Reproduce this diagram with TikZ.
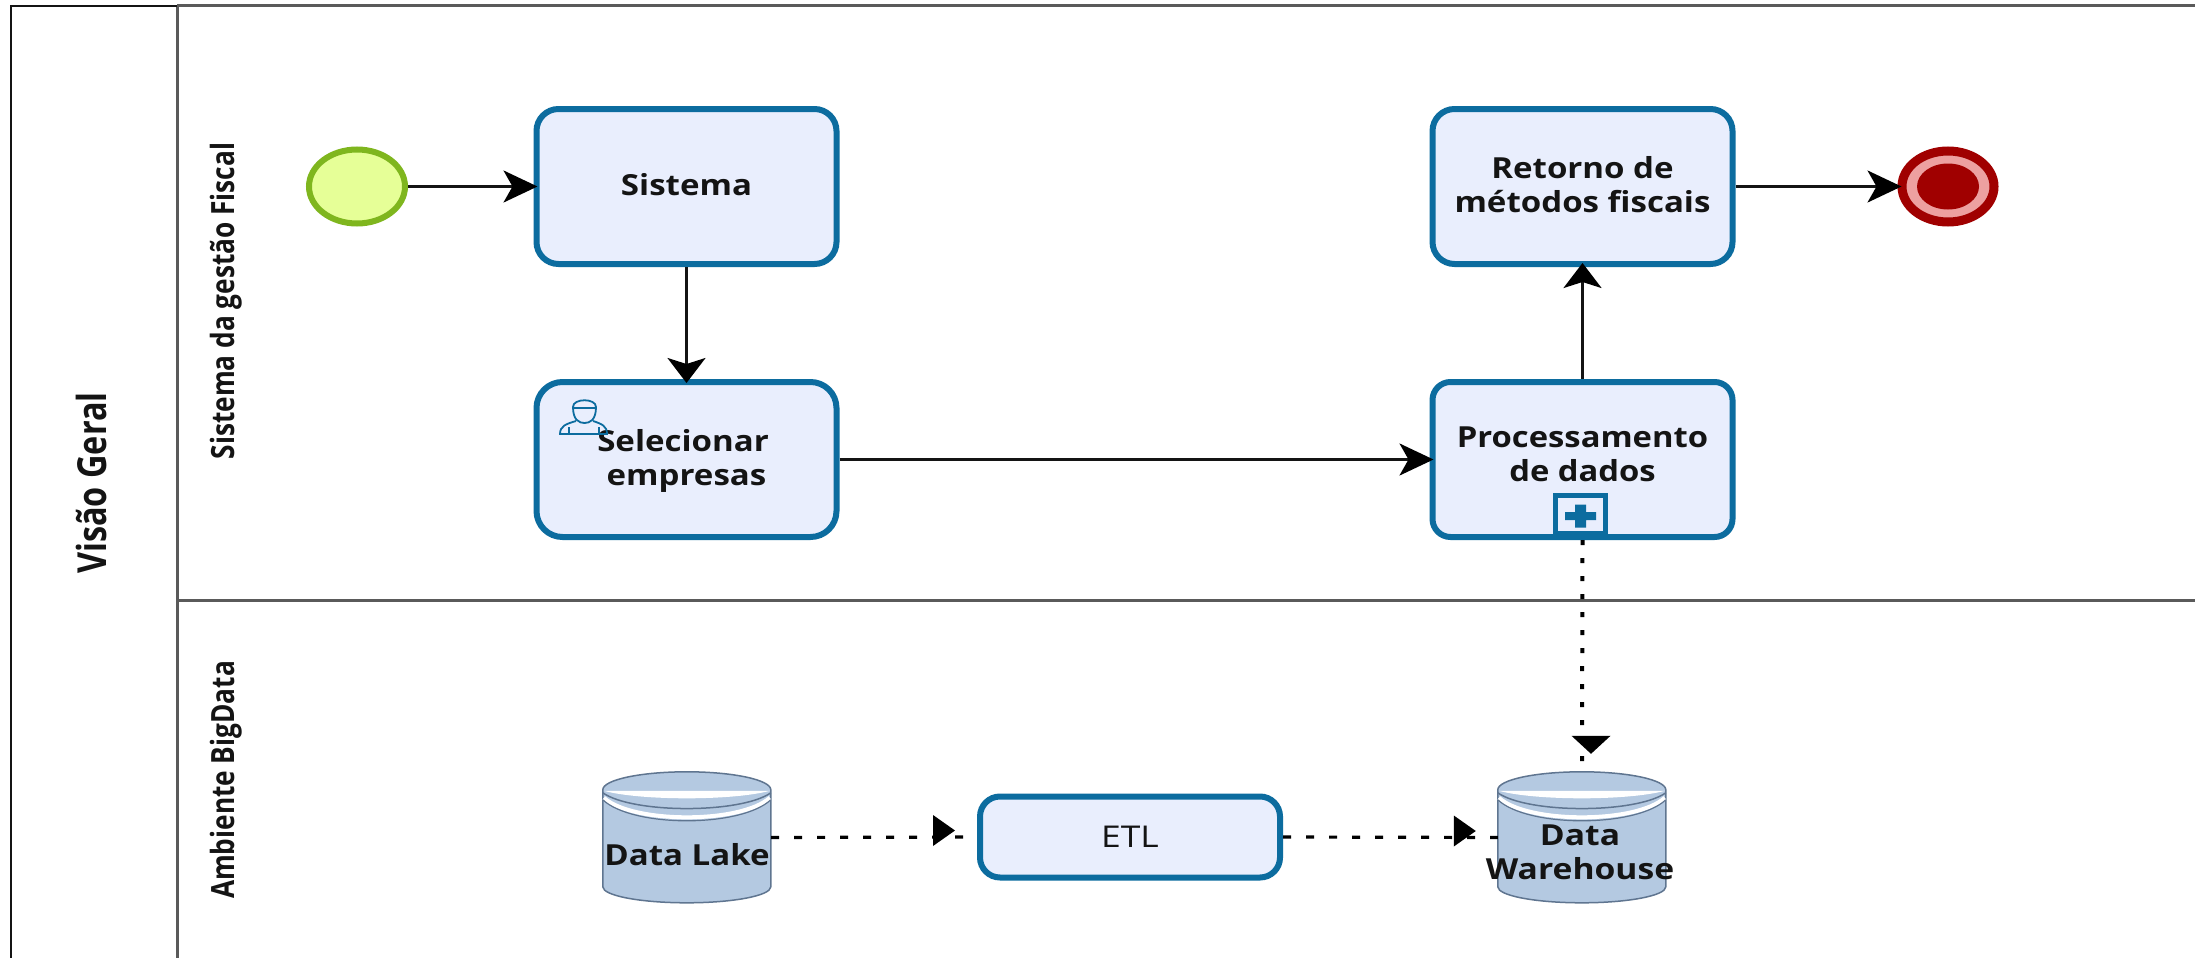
\documentclass[tikz,border=0pt]{standalone}
\usepackage{fontspec}
\usepackage{graphicx}
\setmainfont{Open Sans}
\usetikzlibrary{arrows.meta,calc,shapes.geometric}
\definecolor{taskline}{HTML}{0C6C9F}
\definecolor{taskfill}{HTML}{E9EEFD}
\definecolor{storefill}{HTML}{B4C9E1}
\definecolor{storeline}{HTML}{5F7590}
\definecolor{lanegray}{HTML}{5A5A5A}
\definecolor{ink}{HTML}{141414}
\definecolor{startfill}{HTML}{E6FF97}
\definecolor{startline}{HTML}{7FB61E}
\definecolor{endred}{HTML}{A00000}
\definecolor{endring}{HTML}{EDA0A0}
\newcommand{\tasktext}[3]{\raisebox{#2}[0pt][0pt]{\scalebox{#1}[1]{\begin{tabular}[t]{@{}c@{}}#3\end{tabular}}}}
\newcommand{\sidetext}[2]{\rotatebox{90}{\scalebox{#1}[1]{#2}}}
\newcommand{\datastore}[1]{%
  \begin{scope}[shift={(#1.north west)}]
    \draw[storeline,line width=1.5pt,fill=storefill]
      (0,18) arc[start angle=180,end angle=0,x radius=84pt,y radius=18pt]
      -- (168,115) arc[start angle=0,end angle=-180,x radius=84pt,y radius=16pt] -- cycle;
    \fill[white] (1,19) -- (167,19) .. controls (130,29) and (38,29) .. cycle;
    \draw[white,line width=4pt] (1,26) .. controls (30,52) and (138,52) .. (167,26);
    \draw[storeline,line width=1.5pt] (0,21) .. controls (30,42) and (138,42) .. (168,21);
    \draw[storeline,line width=1.2pt] (0,28) .. controls (30,56) and (138,56) .. (168,28);
  \end{scope}}
\tikzset{
  x=1pt,y=-1pt,
  taskbox/.style={draw=taskline,fill=taskfill,line width=6pt,rounded corners=#1,
    minimum width=300pt,minimum height=155pt,inner sep=0pt,text=ink,
    font=\fontsize{29}{34}\selectfont\bfseries},
  taskbox/.default=22pt,
  storebox/.style={minimum width=168pt,minimum height=131pt,inner sep=0pt,text=ink,
    font=\fontsize{29}{34}\selectfont\bfseries},
  flow/.style={draw=ink,line width=2.6pt,shorten >=-4pt},
  hhead/.style={-{Stealth[length=34pt,width=32pt,inset=9pt,color=black]}},
  vhead/.style={-{Stealth[length=25pt,width=38pt,inset=6pt,color=black]}},
  dotsh/.style={draw=black,line width=3.2pt,dash pattern=on 8pt off 15pt},
  dotsv/.style={draw=black,line width=4pt,dash pattern=on 5pt off 13pt},
  lane/.style={draw=lanegray,line width=3pt},
  sidelabel/.style={text=ink,inner sep=0pt,font=\fontsize{32}{36}\selectfont\bfseries},
}
\begin{document}
\begin{tikzpicture}
\useasboundingbox (0,0) rectangle (2195,958);
\fill[white] (0,0) rectangle (2195,958);
% pool frame
\draw[lane] (177,6) -- (2195,6);
\draw[lane] (177,6) -- (177,958);
\draw[lane] (177,600) -- (2195,600);
\draw[draw=ink,line width=2.5pt] (11,958) -- (11,6) -- (177,6);
% lane labels
\node[sidelabel] (pool) at (91,483) {\sidetext{0.81}{\fontsize{40}{44}\selectfont Visão Geral}};
\node[sidelabel] (lane1) at (226,301) {\sidetext{0.82}{Sistema da gestão Fiscal}};
\node[sidelabel] (lane2) at (226,780) {\sidetext{0.82}{Ambiente BigData}};
% events
\node[draw=startline,fill=startfill,line width=6pt,ellipse,minimum width=96pt,minimum height=74pt,inner sep=0pt] (start) at (357,186.5) {};
\node[draw=endred,fill=endring,line width=9pt,ellipse,minimum width=92pt,minimum height=71pt,inner sep=0pt] (finish) at (1948,186.5) {};
\node[fill=endred,ellipse,minimum width=62pt,minimum height=46pt,inner sep=0pt] (finishcore) at (1948,186.5) {};
% tasks
\node[taskbox] (sistema) at (686.5,186.5) {\tasktext{1.14}{-9pt}{Sistema}};
\node[taskbox=26pt] (selecionar) at (686.5,459.5) {\tasktext{1.14}{8pt}{\hspace*{-6pt}Selecionar\\empresas}};
\node[taskbox=18pt] (proc) at (1582.5,459.5) {\tasktext{1.13}{12.5pt}{Processamento\\de dados}};
\node[taskbox] (retorno) at (1582.5,186.5) {\tasktext{1.14}{8.5pt}{Retorno de\\métodos fiscais}};
\node[draw=taskline,fill=taskfill,line width=6pt,rounded corners=20pt,minimum width=300pt,minimum height=81pt,inner sep=0pt,text=ink,font=\fontsize{30}{33}\selectfont] (etl) at (1130,837) {\scalebox{1.18}[1]{ETL}};
% user icon
\begin{scope}[draw=taskline,line width=1.8pt,fill=none]
  \draw (573,407) .. controls (573,398) and (596,398) .. (596,407) .. controls (596,420) and (590,423) .. (584.5,423) .. controls (579,423) and (573,420) .. (573,407) -- cycle;
  \draw (573,408) -- (596,408);
  \draw (576,421) .. controls (566,424) and (560,426) .. (560,434) -- (607,434) .. controls (607,426) and (602,424) .. (593,421);
  \draw (569,427) -- (569,434) (599,427) -- (599,434);
\end{scope}
% sub-process marker
\node[draw=taskline,fill=taskfill,line width=5pt,minimum width=50pt,minimum height=38pt,inner sep=0pt] (marker) at (1580.5,514.5) {};
\fill[taskline] (1565,512) rectangle (1596,520) (1575,504.5) rectangle (1586,527.5);
% data stores
\node[storebox] (lake) at (687,837.5) {};
\node[storebox] (dw) at (1582,837.5) {};
\datastore{lake}
\datastore{dw}
\node[storebox] (laketext) at (687,837.5) {\tasktext{1.14}{-27.5pt}{Data Lake}};
\node[storebox] (dwtext) at (1580,837.5) {\tasktext{1.16}{-7.5pt}{Data\\Warehouse}};
% connectors
\draw[flow,hhead] (start) -- (sistema);
\draw[flow,vhead] (sistema) -- (selecionar);
\draw[flow,hhead] (selecionar) -- (proc);
\draw[flow,vhead] (proc) -- (retorno);
\draw[flow,hhead] (retorno) -- (finish);
\draw[dotsv] (proc.south) -- (dw.north);
\draw[dotsh] (lake.east) -- (etl.west);
\draw[dotsh] (etl.east) -- (dw.west);
\fill[black] ($(dw.north)+(9,-18)$) -- ++(-19.5,-18) -- ++(39,0) -- cycle;
\fill[black] ($(etl.west)+(-22,-6.5)$) -- ++(-22,-15.5) -- ++(0,31) -- cycle;
\fill[black] ($(dw.west)+(-22,-6.5)$) -- ++(-22,-15.5) -- ++(0,31) -- cycle;
\end{tikzpicture}
\end{document}
